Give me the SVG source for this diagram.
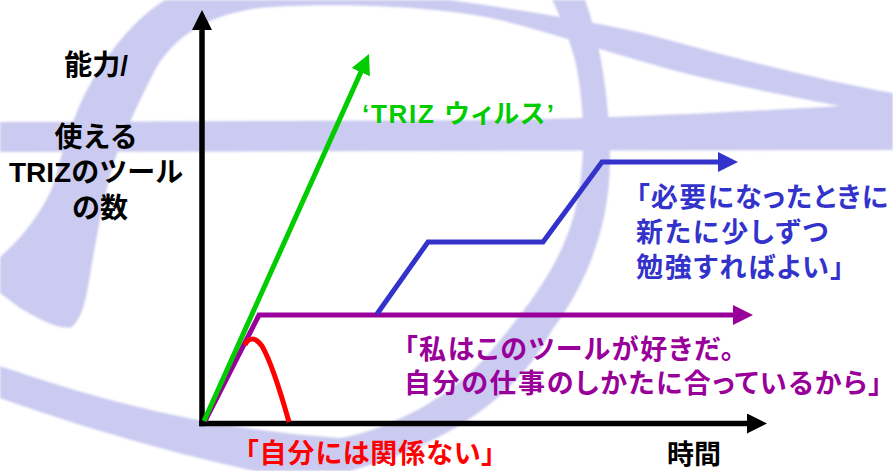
<svg xmlns="http://www.w3.org/2000/svg" width="893" height="471" viewBox="0 0 893 471">
  <style>
    .swoosh { fill: #CBCBF1; }
    .axis { stroke: #000; stroke-width: 5.5; fill: none; }
    .curve { stroke-width: 5; fill: none; stroke-linejoin: miter; stroke-linecap: butt; }
    .lbl { font-family: "Liberation Sans", "Noto Sans CJK JP", sans-serif; font-weight: bold; }
    .jp { font-feature-settings: "palt" 1; }
  </style>
  <defs>
    <filter id="soft" x="-5%" y="-5%" width="110%" height="110%">
      <feGaussianBlur stdDeviation="1.2"/>
    </filter>
    <marker id="head-black" markerUnits="userSpaceOnUse" markerWidth="20" markerHeight="20" refX="2" refY="10" orient="auto">
      <path d="M0,0 L20,10 L0,20 Z" fill="#000"/>
    </marker>
    <marker id="head-green" markerUnits="userSpaceOnUse" markerWidth="20" markerHeight="20" refX="2" refY="10" orient="auto">
      <path d="M0,0 L20,10 L0,20 Z" fill="#00CC00"/>
    </marker>
    <marker id="head-blue" markerUnits="userSpaceOnUse" markerWidth="20" markerHeight="20" refX="2" refY="10" orient="auto">
      <path d="M0,0 L20,10 L0,20 Z" fill="#3333CC"/>
    </marker>
    <marker id="head-purple" markerUnits="userSpaceOnUse" markerWidth="20" markerHeight="20" refX="2" refY="10" orient="auto">
      <path d="M0,0 L20,10 L0,20 Z" fill="#990099"/>
    </marker>
  </defs>

  <rect width="893" height="471" fill="#FFFFFF"/>

  <!-- faint logo swooshes behind the chart -->
  <g id="backdrop" filter="url(#soft)">
    <path class="swoosh" d="M0,122 L500,120 C620,118 740,112 840,106 L893,106 L893,150 L0,152 Z"/>
    <path class="swoosh" d="M0,293 L0,257 C20,240 45,210 55,180 C65,140 80,95 105,60 C125,32 145,12 165,0 L450,0 C520,10 600,22 650,35 C730,57 820,80 893,93 L893,110 L840,106 C780,95 740,86 700,77 C630,60 560,35 500,20 C440,6 330,2 260,8 C210,14 175,35 155,70 C140,100 125,130 113,165 C103,200 96,240 90,275 C86,300 82,318 72,327 C60,330 40,320 20,308 Z"/>
    <path class="swoosh" d="M0,366 C100,400 200,428 340,438 C390,430 455,395 490,352 C530,305 560,265 574,215 C586,170 586,110 575,60 C568,35 560,15 552,0 L585,0 C600,40 610,100 610,160 C610,220 590,280 552,330 C520,390 460,440 350,471 L255,471 C180,455 90,430 0,398 Z"/>
  </g>

  <!-- axes and growth lines -->
  <g id="connectors">
    <line id="axis-y" class="axis" x1="202" y1="426.3" x2="202" y2="28" marker-end="url(#head-black)"/>
    <line id="axis-x" class="axis" x1="199.2" y1="423.5" x2="749" y2="423.5" marker-end="url(#head-black)"/>
    <polyline id="line-purple" class="curve" stroke="#990099" points="205,421 259,315 735,315" marker-end="url(#head-purple)"/>
    <polyline id="line-blue" class="curve" stroke="#3333CC" points="377,314 428,242 543,242 602,162 720,162" marker-end="url(#head-blue)"/>
    <line id="line-green" class="curve" stroke="#00CC00" x1="204" y1="421" x2="361.6" y2="70.4" marker-end="url(#head-green)"/>
    <path id="line-red" class="curve" stroke="#FF0000" d="M245,345 C248,338 255,336 262,346 C270,360 280,390 289,422"/>
  </g>

  <!-- axis titles -->
  <g id="label-y">
    <text class="lbl" font-size="28" fill="#000" text-anchor="middle">
      <tspan x="100" y="75">能力/</tspan>
      <tspan x="100" y="147">使える</tspan>
      <tspan x="100" y="182">TRIZのツール</tspan>
      <tspan x="100" y="218">の数</tspan>
    </text>
  </g>
  <g id="label-x">
    <text class="lbl" font-size="27" fill="#000" x="667" y="464">時間</text>
  </g>

  <!-- curve captions -->
  <g id="note-green">
    <text class="lbl jp" font-size="26" fill="#00CC00" x="362" y="123" textLength="192" lengthAdjust="spacing">‘TRIZ ウィルス’</text>
  </g>
  <g id="note-blue">
    <text class="lbl jp" font-size="27" fill="#3333CC" x="636" y="207" textLength="252" lengthAdjust="spacing">「必要になったときに</text>
    <text class="lbl jp" font-size="27" fill="#3333CC" x="636" y="242" textLength="192" lengthAdjust="spacing">新たに少しずつ</text>
    <text class="lbl jp" font-size="27" fill="#3333CC" x="636" y="277" textLength="208" lengthAdjust="spacing">勉強すればよい」</text>
  </g>
  <g id="note-purple">
    <text class="lbl jp" font-size="27" fill="#990099" x="404" y="359" textLength="330" lengthAdjust="spacing">「私はこのツールが好きだ。</text>
    <text class="lbl jp" font-size="27" fill="#990099" x="404" y="393" textLength="478" lengthAdjust="spacing">自分の仕事のしかたに合っているから」</text>
  </g>
  <g id="note-red">
    <text class="lbl jp" font-size="27" fill="#FF0000" x="245" y="463" textLength="250" lengthAdjust="spacing">「自分には関係ない」</text>
  </g>
</svg>
